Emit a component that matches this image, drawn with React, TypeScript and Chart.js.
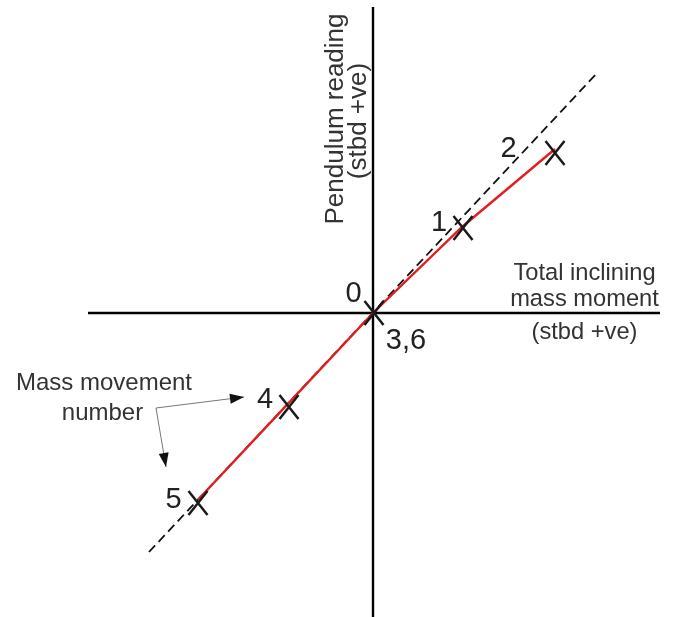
import React, { useEffect, useRef } from "react";
import { Chart, registerables } from "chart.js";

Chart.register(...registerables);

// Data (units: arbitrary moment / reading units, origin at axes crossing)
const axisXLine = [
  { x: -28.5, y: 0 },
  { x: 28.7, y: 0 },
];
const axisYLine = [
  { x: 0, y: 30.6 },
  { x: 0, y: -31 },
];
const trendLine = [
  { x: -22.4, y: -23.9 },
  { x: 22.5, y: 24.1 },
];
// measured points, in order of path: 5, 4, 0/3/6, 1, 2
const measuredX = [-17.5, -8.3, 0, 8.9, 18.2];
const measuredY = [-18.67, -8.86, 0, 8.6, 16.4];
// X marks
const markX = [-17.5, -8.4, 0.1, 9.0, 18.2];
const markY = [-19.0, -9.4, 0, 8.5, 16.0];
// movement-number labels
const numLabels = ["5", "4", "0", "3,6", "1", "2"];
const numLabelX = [-19.95, -10.8, -1.95, 3.3, 6.6, 13.55];
const numLabelY = [-19.5, -9.5, 1.1, -3.6, 8.2, 15.6];
// annotation arrow (tip right, corner, tip down)
const arrowPath = [
  { x: -12.9, y: -8.4 },
  { x: -21.7, y: -9.5 },
  { x: -20.7, y: -15.4 },
];

const xTitleLines = ["Total inclining", "mass moment", "(stbd +ve)"];
const xTitleY = [3.3, 0.7, -2.6];
const xTitleX = 21.15;
const yTitleLines = ["Pendulum reading", "(stbd +ve)"];
const yTitleX = [-3.0, -0.7];
const yTitleY = [19.4, 19.2];
const noteLines = ["Mass movement", "number"];
const noteX = [-26.9, -27.05];
const noteY = [-7.7, -10.7];

function makeMark(): HTMLCanvasElement {
  const c = document.createElement("canvas");
  c.width = 24;
  c.height = 28;
  const g = c.getContext("2d")!;
  g.strokeStyle = "#1a1a1a";
  g.lineWidth = 2.5;
  g.lineCap = "butt";
  g.beginPath();
  g.moveTo(2.5, 2);
  g.lineTo(21.5, 26);
  g.moveTo(21.5, 2);
  g.lineTo(2.5, 26);
  g.stroke();
  return c;
}

const textPlugin = {
  id: "textPlugin",
  afterDatasetsDraw(chart: any) {
    const { ctx, scales } = chart;
    const xs = scales.x;
    const ys = scales.y;
    const px = (v: number) => xs.getPixelForValue(v);
    const py = (v: number) => ys.getPixelForValue(v);
    ctx.save();
    // arrowheads
    const head = (from: any, to: any) => {
      const x1 = px(from.x), y1 = py(from.y), x2 = px(to.x), y2 = py(to.y);
      const a = Math.atan2(y2 - y1, x2 - x1);
      const L = 14, W = 5;
      ctx.beginPath();
      ctx.moveTo(x2, y2);
      ctx.lineTo(x2 - L * Math.cos(a) + W * Math.sin(a), y2 - L * Math.sin(a) - W * Math.cos(a));
      ctx.lineTo(x2 - L * Math.cos(a) - W * Math.sin(a), y2 - L * Math.sin(a) + W * Math.cos(a));
      ctx.closePath();
      ctx.fillStyle = "#111";
      ctx.fill();
    };
    head(arrowPath[1], arrowPath[0]);
    head(arrowPath[1], arrowPath[2]);

    ctx.textBaseline = "alphabetic";
    ctx.textAlign = "center";
    // numbers
    ctx.fillStyle = "#222";
    ctx.font = '29px "Liberation Sans", Arial, sans-serif';
    numLabels.forEach((t, i) => ctx.fillText(t, px(numLabelX[i]), py(numLabelY[i])));
    // x title
    ctx.fillStyle = "#333";
    ctx.font = '23.7px "Liberation Sans", Arial, sans-serif';
    xTitleLines.forEach((t, i) => ctx.fillText(t, px(xTitleX), py(xTitleY[i])));
    // note
    ctx.font = '24px "Liberation Sans", Arial, sans-serif';
    noteLines.forEach((t, i) => ctx.fillText(t, px(noteX[i]), py(noteY[i])));
    // y title rotated
    ctx.font = '26px "Liberation Sans", Arial, sans-serif';
    yTitleLines.forEach((t, i) => {
      ctx.save();
      ctx.translate(px(yTitleX[i]), py(yTitleY[i]));
      ctx.rotate(-Math.PI / 2);
      ctx.fillText(t, 0, 0);
      ctx.restore();
    });
    ctx.restore();
  },
};

export default function App() {
  const ref = useRef<HTMLCanvasElement>(null);
  useEffect(() => {
    if (!ref.current) return;
    const mark = makeMark();
    const chart = new Chart(ref.current, {
      type: "scatter",
      data: {
        datasets: [
          {
            data: markX.map((x, i) => ({ x, y: markY[i] })),
            pointStyle: mark as any,
            pointRadius: 12,
            showLine: false,
            order: 0,
          },
          {
            data: measuredX.map((x, i) => ({ x, y: measuredY[i] })),
            showLine: true,
            borderColor: "#e21f1f",
            borderWidth: 2.4,
            pointRadius: 0,
            order: 1,
          },
          {
            data: arrowPath,
            showLine: true,
            borderColor: "#777",
            borderWidth: 1,
            pointRadius: 0,
            order: 2,
          },
          {
            data: trendLine,
            showLine: true,
            borderColor: "#111",
            borderWidth: 1.8,
            borderDash: [9, 5],
            pointRadius: 0,
            order: 3,
          },
          {
            data: axisXLine,
            showLine: true,
            borderColor: "#000",
            borderWidth: 2.4,
            pointRadius: 0,
            order: 4,
          },
          {
            data: axisYLine,
            showLine: true,
            borderColor: "#000",
            borderWidth: 2.4,
            pointRadius: 0,
            order: 4,
          },
        ],
      },
      options: {
        animation: false,
        responsive: false,
        layout: { padding: 0, autoPadding: false },
        plugins: { legend: { display: false }, tooltip: { enabled: false } },
        events: [],
        scales: {
          x: { type: "linear", min: -37.3, max: 30.4, display: false },
          y: { type: "linear", min: -30.4, max: 31.3, display: false },
        },
      },
      plugins: [textPlugin],
    });
    return () => chart.destroy();
  }, []);
  return (
    <div style={{ position: "absolute", left: 0, top: 0, width: 677, height: 617, background: "#fff" }}>
      <canvas ref={ref} width={677} height={617} />
    </div>
  );
}
